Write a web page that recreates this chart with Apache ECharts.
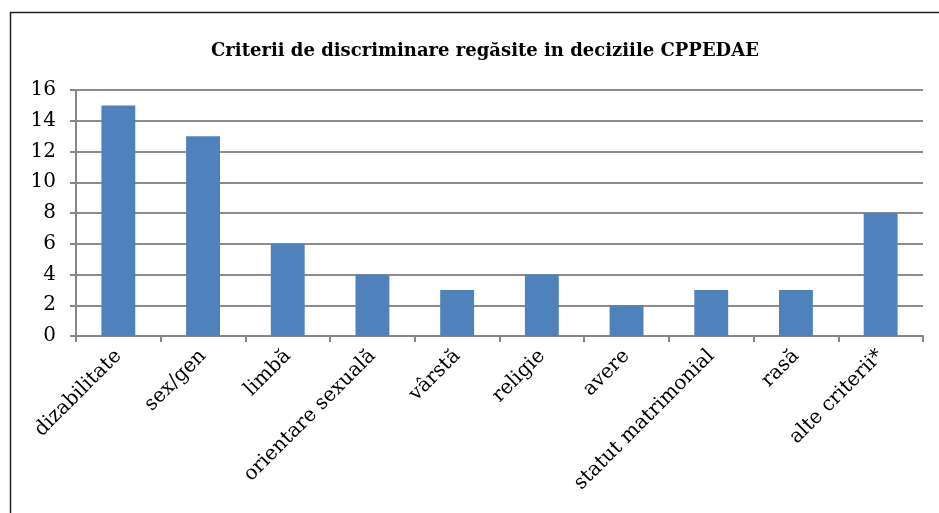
<!DOCTYPE html>
<html>
<head>
<meta charset="utf-8">
<script src="https://cdn.jsdelivr.net/npm/echarts@6/dist/echarts.min.js"></script>
<style>
html,body{margin:0;padding:0;background:#fff;}
#chart{width:939px;height:513px;}
</style>
</head>
<body>
<div id="chart"></div>
<script>
const titleText = 'Criterii de discriminare regăsite in deciziile CPPEDAE';
const categories = ['dizabilitate','sex/gen','limbă','orientare sexuală','vârstă','religie','avere','statut matrimonial','rasă','alte criterii*'];
const values = [15,13,6,4,3,4,2,3,3,8];
const yTicks = {min:0, max:16, interval:2};

const chart = echarts.init(document.getElementById('chart'), null, {renderer:'canvas'});
const serif = '"DejaVu Serif", "Liberation Serif", serif';
chart.setOption({
  animation:false,
  backgroundColor:'#ffffff',
  title:{
    text:titleText,
    left:206,
    top:37,
    textStyle:{fontFamily:serif,fontWeight:'bold',fontSize:18,color:'#000'}
  },
  graphic:[{
    type:'rect',
    shape:{x:10.5,y:12.5,width:1000,height:1000},
    style:{fill:'none',stroke:'#222',lineWidth:1.5},
    silent:true,
    z:-1
  }],
  grid:{left:76,right:16,top:90,bottom:177,containLabel:false},
  xAxis:{
    type:'category',
    data:categories,
    axisLine:{lineStyle:{color:'#868686',width:2}},
    axisTick:{show:true,length:6,alignWithLabel:false,lineStyle:{color:'#868686',width:2}},
    axisLabel:{rotate:45,interval:0,fontFamily:serif,fontSize:20,color:'#000',margin:17}
  },
  yAxis:{
    type:'value',
    min:yTicks.min,max:yTicks.max,interval:yTicks.interval,
    axisLine:{show:true,lineStyle:{color:'#868686',width:2}},
    axisTick:{show:true,length:6,lineStyle:{color:'#868686',width:2}},
    axisLabel:{fontFamily:serif,fontSize:20,color:'#000',margin:20},
    splitLine:{show:true,lineStyle:{color:'#8c8c8c',width:2}}
  },
  series:[{
    type:'bar',
    data:values,
    barCategoryGap:'60%',
    itemStyle:{color:'#4F81BD'}
  }]
});
</script>
</body>
</html>
